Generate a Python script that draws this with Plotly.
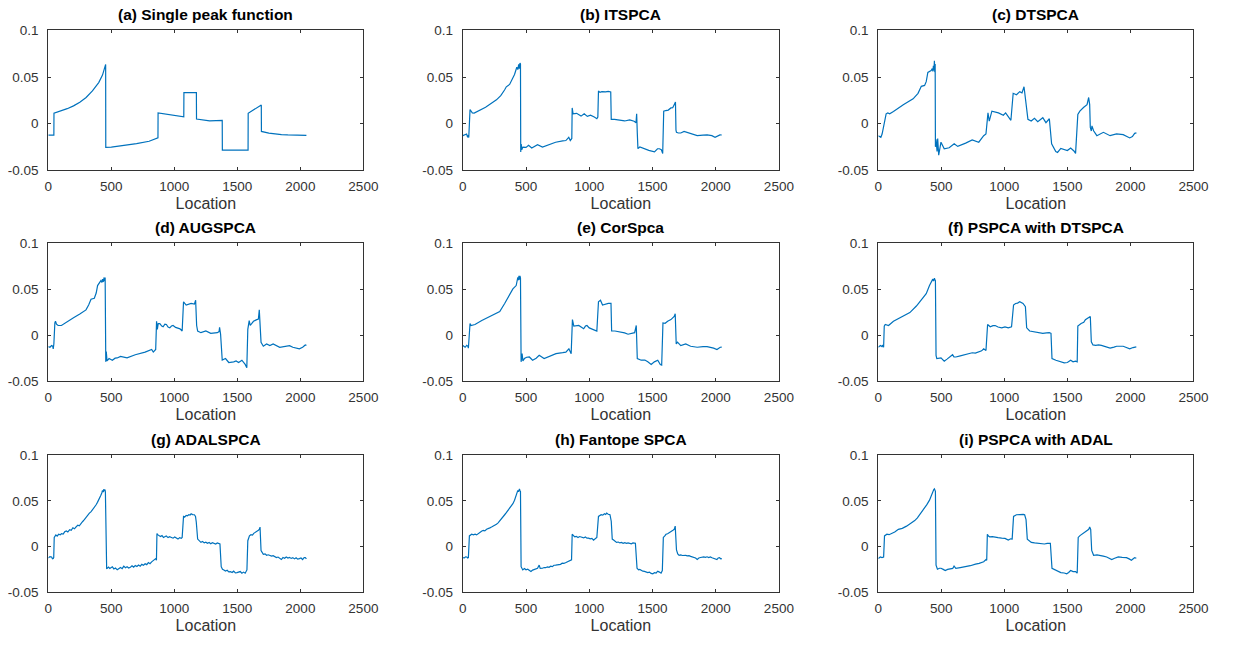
import plotly.graph_objects as go

# ---------------- data ----------------
titles = ["(a) Single peak function", "(b) ITSPCA", "(c) DTSPCA",
          "(d) AUGSPCA", "(e) CorSpca", "(f) PSPCA with DTSPCA",
          "(g) ADALSPCA", "(h) Fantope SPCA", "(i) PSPCA with ADAL"]

x_ticks = [0, 500, 1000, 1500, 2000, 2500]
x_tick_labels = ["0", "500", "1000", "1500", "2000", "2500"]
y_ticks = [-0.05, 0, 0.05, 0.1]
y_tick_labels = ["-0.05", "0", "0.05", "0.1"]
x_label = "Location"

single_peak = [(0,-0.0125),(44,-0.0125),(45,0.0112),(100,0.0135),(150,0.016),(200,0.019),
               (250,0.023),(300,0.028),(350,0.035),(400,0.044),(430,0.052),(455,0.0635),
               (456,-0.0255),(500,-0.0252),(600,-0.0236),(700,-0.0215),(800,-0.019),(870,-0.0152),
               (871,0.0115),(1000,0.0088),(1075,0.0072),(1076,0.0333),(1175,0.0333),(1176,0.0049),
               (1230,0.0037),(1280,0.0030),(1380,0.0035),(1381,-0.0284),(1585,-0.0284),(1586,0.011),
               (1690,0.020),(1691,-0.0084),(1750,-0.0102),(1800,-0.0112),(1850,-0.0118),
               (1900,-0.0122),(1950,-0.0124),(2048,-0.0126)]

itspca = [(0,-0.0129),(15,-0.0120),(30,-0.0112),(38,-0.0147),(44,-0.0125),(47,-0.0150),(52,0.008),
          (57,0.015),(65,0.0135),(75,0.0115),(90,0.0112),(120,0.0135),(180,0.0175),(266,0.0255),
          (300,0.030),(330,0.036),(344,0.0395),(370,0.042),(395,0.048),(409,0.0528),(427,0.0605),
          (435,0.058),(442,0.0635),(447,0.059),(452,0.065),(456,0.064),(458,-0.0304),(462,-0.022),
          (466,-0.028),(475,-0.0252),(500,-0.0256),(520,-0.0234),(545,-0.0262),(591,-0.0227),
          (630,-0.0252),(680,-0.0225),(734,-0.0200),(790,-0.0185),(815,-0.0182),(838,-0.0147),
          (850,-0.0182),(862,-0.016),(865,0.0168),(872,0.0105),(900,0.011),(935,0.0080),(960,0.0105),
          (985,0.0077),(1010,0.0090),(1040,0.0070),(1060,0.0052),(1068,0.007),(1073,0.035),
          (1085,0.0335),(1100,0.0343),(1130,0.034),(1150,0.0346),(1170,0.034),(1174,0.0045),
          (1200,0.0045),(1240,0.0035),(1280,0.0028),(1320,0.0040),(1355,0.0025),(1370,0.001),
          (1375,0.0105),(1380,-0.010),(1385,-0.0269),(1400,-0.0252),(1430,-0.027),(1471,-0.0287),
          (1516,-0.0304),(1540,-0.027),(1555,-0.027),(1570,-0.028),(1581,-0.0322),(1589,0.0133),
          (1605,0.014),(1625,0.0145),(1646,0.0168),(1660,0.017),(1672,0.0203),(1682,0.0231),
          (1686,-0.007),(1690,-0.0094),(1705,-0.0101),(1724,-0.0101),(1750,-0.0084),(1780,-0.0095),
          (1802,-0.0105),(1854,-0.0129),(1900,-0.0125),(1932,-0.0122),(1970,-0.013),(1995,-0.0147),
          (2034,-0.0122),(2048,-0.0123)]

dtspca = [(0,-0.013),(10,-0.0135),(20,-0.0147),(30,-0.0112),(45,0.0),(62,0.0105),(75,0.0115),
          (90,0.0105),(120,0.013),(198,0.0203),(276,0.0266),(300,0.030),(315,0.0325),(341,0.040),
          (367,0.041),(380,0.045),(393,0.055),(419,0.057),(428,0.059),(433,0.056),(437,0.062),
          (441,0.057),(445,0.0675),(448,0.055),(451,0.064),(453,-0.025),(458,-0.017),(466,-0.030),
          (471,-0.016),(479,-0.034),(488,-0.025),(497,-0.020),(523,-0.027),(562,-0.026),(602,-0.0217),
          (630,-0.0245),(693,-0.0210),(745,-0.0175),(797,-0.020),(836,-0.013),(854,-0.0112),
          (870,0.0115),(880,0.0027),(901,0.0133),(953,0.0115),(992,0.009),(1010,0.0115),(1030,0.008),
          (1052,0.0035),(1070,0.0325),(1096,0.031),(1122,0.0343),(1140,0.033),(1156,0.0395),
          (1174,0.022),(1187,0.0045),(1213,0.0028),(1239,0.0056),(1265,0.0021),(1305,0.0063),
          (1330,0.001),(1357,0.0052),(1375,-0.0217),(1408,-0.030),(1422,-0.031),(1448,-0.0266),
          (1500,-0.029),(1526,-0.0262),(1552,-0.0294),(1565,-0.032),(1583,0.0098),(1599,0.0133),
          (1630,0.0175),(1656,0.0203),(1669,0.028),(1677,0.0203),(1682,-0.0042),(1690,-0.008),
          (1695,-0.0025),(1708,-0.0077),(1734,-0.013),(1786,-0.0094),(1839,-0.013),(1890,-0.011),
          (1943,-0.0119),(1995,-0.0154),(2016,-0.014),(2034,-0.0105),(2048,-0.0100)]

augspca = [(0,-0.0124),(13,-0.0131),(26,-0.0113),(35,-0.012),(39,-0.0148),(44,-0.0095),(52,0.0134),
           (57,0.0152),(65,0.012),(78,0.0106),(104,0.0106),(150,0.015),(200,0.019),(250,0.023),
           (299,0.0276),(320,0.033),(339,0.0392),(365,0.0403),(380,0.046),(391,0.0541),(417,0.0594),
           (425,0.0576),(430,0.0611),(436,0.058),(443,0.0629),(447,0.059),(451,0.0629),(456,-0.029),
           (460,-0.0177),(466,-0.028),(482,-0.0254),(508,-0.0272),(530,-0.025),(547,-0.0247),
           (573,-0.023),(625,-0.0247),(690,-0.0212),(768,-0.0184),(800,-0.017),(820,-0.0155),
           (833,-0.0184),(845,-0.016),(852,-0.0155),(859,0.0152),(865,0.0064),(872,0.0127),
           (885,0.0127),(900,0.010),(911,0.0092),(925,0.012),(937,0.0117),(950,0.009),(964,0.0081),
           (977,0.010),(990,0.0106),(1010,0.0085),(1029,0.0081),(1045,0.007),(1062,0.0046),
           (1073,0.0364),(1094,0.0329),(1115,0.034),(1133,0.0346),(1159,0.0339),(1169,0.0382),
           (1177,0.0106),(1185,0.0046),(1211,0.0028),(1250,0.0046),(1289,0.0021),(1320,0.0028),
           (1341,0.0028),(1355,0.004),(1359,0.0085),(1367,0.0011),(1380,-0.027),(1406,-0.0254),
           (1432,-0.0297),(1471,-0.029),(1490,-0.028),(1510,-0.0297),(1536,-0.0272),(1562,-0.0318),
           (1575,-0.0353),(1583,0.0064),(1594,0.0159),(1602,0.0106),(1628,0.0152),(1654,0.017),
           (1667,0.0177),(1674,0.0276),(1680,0.0152),(1688,-0.0078),(1706,-0.012),(1732,-0.0095),
           (1758,-0.0113),(1784,-0.0095),(1836,-0.0131),(1880,-0.012),(1914,-0.0113),(1940,-0.0131),
           (1992,-0.0148),(2018,-0.0131),(2039,-0.0106),(2048,-0.011)]

corspca = [(0,-0.0113),(18,-0.0131),(31,-0.011),(40,-0.012),(44,-0.0141),(50,-0.0042),(57,0.0127),
           (65,0.0106),(96,0.0117),(150,0.0160),(200,0.0195),(250,0.0225),(292,0.0258),(331,0.0346),
           (370,0.0435),(396,0.0505),(422,0.0541),(435,0.0629),(440,0.060),(444,0.0647),(448,0.0605),
           (452,0.0647),(456,0.0622),(461,-0.029),(469,-0.0201),(475,-0.028),(487,-0.0254),
           (505,-0.024),(526,-0.0237),(552,-0.0272),(580,-0.025),(604,-0.0219),(643,-0.0254),
           (690,-0.0225),(737,-0.0201),(790,-0.019),(815,-0.0184),(839,-0.0148),(850,-0.0175),
           (857,-0.0201),(867,0.017),(878,0.0099),(917,0.0106),(940,0.0085),(956,0.0071),(970,0.010),
           (982,0.0106),(1000,0.008),(1021,0.0071),(1040,0.006),(1060,0.0046),(1073,0.0364),
           (1089,0.0382),(1105,0.0329),(1130,0.034),(1151,0.0346),(1172,0.0346),(1177,0.0046),
           (1203,0.0046),(1230,0.004),(1255,0.0035),(1280,0.0025),(1307,0.0011),(1335,0.002),
           (1359,0.0028),(1372,0.0106),(1380,-0.0254),(1411,-0.0272),(1440,-0.027),(1463,-0.029),
           (1490,-0.0318),(1515,-0.029),(1542,-0.0272),(1562,-0.0318),(1573,-0.0325),(1583,0.0134),
           (1600,0.013),(1620,0.0152),(1646,0.017),(1672,0.0205),(1680,0.0233),(1688,-0.0095),
           (1698,-0.0075),(1724,-0.0113),(1763,-0.0095),(1802,-0.012),(1854,-0.0131),(1900,-0.0125),
           (1932,-0.0124),(1984,-0.0141),(2010,-0.0155),(2036,-0.0131),(2048,-0.013)]

pspca_dt = [(0,-0.0131),(16,-0.0113),(29,-0.0124),(36,-0.0106),(42,-0.0131),(47,0.0099),(55,0.0117),
            (81,0.0106),(120,0.0152),(172,0.0187),(250,0.0247),(302,0.0318),(341,0.0389),(380,0.0452),
            (406,0.0541),(432,0.0611),(438,0.059),(445,0.0622),(450,0.060),(453,0.0594),(458,-0.0219),
            (464,-0.0254),(497,-0.0247),(523,-0.0283),(545,-0.026),(563,-0.0237),(589,-0.0212),
            (600,-0.0235),(615,-0.0237),(650,-0.0225),(693,-0.0212),(745,-0.0191),(770,-0.0195),
            (797,-0.0177),(820,-0.017),(836,-0.0148),(854,-0.0166),(867,0.0117),(888,0.0092),
            (910,0.0105),(927,0.0106),(950,0.009),(979,0.0081),(1005,0.009),(1031,0.0081),
            (1057,0.0092),(1073,0.0329),(1089,0.0346),(1105,0.035),(1122,0.0364),(1148,0.0346),
            (1167,0.0311),(1177,0.0081),(1201,0.0046),(1230,0.004),(1253,0.0028),(1280,0.003),
            (1305,0.0021),(1335,0.0025),(1357,0.0028),(1370,0.0021),(1378,-0.0254),(1409,-0.0272),
            (1448,-0.029),(1475,-0.030),(1500,-0.0297),(1526,-0.0272),(1545,-0.029),(1565,-0.0283),
            (1578,-0.029),(1583,0.0099),(1609,0.0127),(1630,0.014),(1643,0.017),(1669,0.0198),
            (1682,0.0205),(1690,-0.0071),(1703,-0.0106),(1725,-0.011),(1747,-0.0106),(1770,-0.011),
            (1799,-0.012),(1839,-0.0141),(1870,-0.013),(1891,-0.012),(1943,-0.012),(1995,-0.0148),
            (2021,-0.0134),(2047,-0.0127)]

adalspca = [(0,-0.0125),(13,-0.011),(26,-0.0114),(33,-0.0135),(39,-0.0132),(43,-0.012),(47,0.010),
            (60,0.0128),(70,0.0115),(82,0.0135),(95,0.0128),(104,0.0142),(118,0.0138),(130,0.0162),
            (143,0.0171),(155,0.0160),(170,0.0185),(182,0.0178),(195,0.0206),(208,0.0195),
            (220,0.0215),(234,0.0235),(246,0.0228),(260,0.026),(273,0.0275),(286,0.0295),
            (298,0.0318),(312,0.0335),(326,0.0367),(338,0.0380),(352,0.0405),(365,0.0425),
            (378,0.0456),(390,0.0485),(404,0.052),(417,0.0562),(425,0.0590),(430,0.0616),
            (436,0.0598),(441,0.0630),(445,0.0610),(450,0.0626),(453,0.0598),(458,-0.0203),
            (463,-0.024),(469,-0.0238),(478,-0.0225),(488,-0.0240),(497,-0.0228),(508,-0.0221),
            (520,-0.0245),(533,-0.0235),(547,-0.0255),(560,-0.0238),(573,-0.0230),(586,-0.0242),
            (599,-0.0214),(612,-0.0232),(625,-0.0222),(638,-0.0235),(651,-0.0228),(664,-0.0210),
            (677,-0.0225),(690,-0.0208),(703,-0.0218),(716,-0.0203),(729,-0.0215),(742,-0.0195),
            (755,-0.0205),(768,-0.0188),(781,-0.0198),(794,-0.0175),(807,-0.0188),(820,-0.0168),
            (833,-0.0157),(845,-0.0140),(852,-0.0132),(858,-0.0150),(862,0.0142),(870,0.0128),
            (878,0.0117),(890,0.0110),(902,0.0120),(914,0.0100),(924,0.0107),(936,0.0115),
            (950,0.0098),(963,0.0108),(977,0.0100),(990,0.0092),(1003,0.0105),(1016,0.0088),
            (1029,0.0082),(1042,0.0098),(1055,0.0090),(1062,0.0100),(1073,0.0331),(1083,0.0325),
            (1094,0.0342),(1105,0.0338),(1115,0.0350),(1125,0.0345),(1133,0.0359),(1145,0.0350),
            (1159,0.0349),(1168,0.0330),(1174,0.0270),(1185,0.0082),(1198,0.0065),(1211,0.0046),
            (1224,0.0055),(1237,0.0040),(1250,0.0048),(1263,0.0036),(1276,0.0045),(1289,0.0030),
            (1302,0.0042),(1315,0.0036),(1328,0.0028),(1341,0.0040),(1352,0.0030),(1362,0.0028),
            (1372,-0.0221),(1382,-0.0250),(1393,-0.0256),(1406,-0.0268),(1419,-0.0260),
            (1432,-0.0278),(1445,-0.0274),(1458,-0.0285),(1471,-0.0270),(1484,-0.0288),
            (1497,-0.0285),(1510,-0.0275),(1523,-0.0274),(1536,-0.0292),(1549,-0.0280),
            (1562,-0.0292),(1576,-0.0256),(1583,0.0064),(1590,0.0100),(1596,0.0117),(1608,0.0130),
            (1620,0.0125),(1630,0.0145),(1641,0.0153),(1654,0.0160),(1667,0.0178),(1675,0.0190),
            (1680,0.0214),(1688,-0.0043),(1697,-0.0070),(1706,-0.0085),(1720,-0.0080),
            (1732,-0.0095),(1745,-0.0090),(1758,-0.0096),(1771,-0.0105),(1784,-0.0100),
            (1797,-0.0112),(1810,-0.0121),(1823,-0.0115),(1836,-0.0125),(1849,-0.0142),
            (1862,-0.0120),(1875,-0.0128),(1888,-0.0114),(1901,-0.0125),(1914,-0.0118),
            (1927,-0.0130),(1940,-0.0121),(1953,-0.0135),(1966,-0.0122),(1979,-0.0138),
            (1992,-0.0132),(2005,-0.0125),(2018,-0.0142),(2030,-0.0120),(2039,-0.0121),(2048,-0.0135)]

fantope = [(0,-0.0121),(12,-0.0125),(22,-0.0112),(31,-0.0114),(38,-0.0125),(44,-0.0121),(52,0.0117),
           (61,0.0128),(70,0.0135),(84,0.0128),(97,0.0135),(109,0.0128),(122,0.0145),(135,0.0155),
           (148,0.0168),(161,0.0178),(174,0.0172),(188,0.0190),(201,0.0195),(214,0.0205),
           (227,0.0214),(240,0.0222),(253,0.0235),(266,0.0245),(279,0.0260),(292,0.0280),
           (305,0.0300),(318,0.0325),(331,0.0349),(344,0.0372),(357,0.0395),(370,0.0415),
           (383,0.0438),(396,0.0470),(409,0.0509),(422,0.0560),(430,0.0590),(435,0.0616),
           (440,0.0600),(444,0.0630),(448,0.0633),(452,0.0610),(456,0.0605),(461,-0.0221),
           (467,-0.0250),(474,-0.0256),(487,-0.0240),(500,-0.0255),(513,-0.0249),(526,-0.0262),
           (539,-0.0274),(552,-0.0258),(565,-0.0250),(578,-0.0245),(591,-0.0238),(604,-0.0203),
           (612,-0.0240),(630,-0.0238),(643,-0.0230),(656,-0.0232),(669,-0.0222),(682,-0.0228),
           (695,-0.0215),(708,-0.0220),(721,-0.0205),(734,-0.0203),(747,-0.0200),(760,-0.0190),
           (773,-0.0195),(786,-0.0182),(799,-0.0185),(812,-0.0178),(825,-0.0170),(838,-0.0165),
           (852,-0.0150),(860,-0.0145),(865,0.0135),(875,0.0120),(885,0.0107),(898,0.0112),
           (911,0.0100),(924,0.0110),(943,0.0100),(956,0.0095),(969,0.0105),(982,0.0092),
           (995,0.0093),(1008,0.0085),(1021,0.0090),(1034,0.0071),(1047,0.0085),(1060,0.0100),
           (1073,0.0331),(1084,0.0340),(1094,0.0349),(1107,0.0345),(1120,0.0360),(1130,0.0352),
           (1138,0.0367),(1150,0.0355),(1164,0.0349),(1174,0.0278),(1182,0.0082),(1195,0.0070),
           (1205,0.0055),(1216,0.0046),(1230,0.0050),(1242,0.0040),(1255,0.0045),(1268,0.0036),
           (1281,0.0042),(1294,0.0035),(1307,0.0040),(1320,0.0036),(1333,0.0030),(1346,0.0040),
           (1358,0.0036),(1365,0.0036),(1378,-0.0238),(1390,-0.0255),(1400,-0.0250),(1411,-0.0263),
           (1424,-0.0270),(1437,-0.0272),(1450,-0.0278),(1463,-0.0285),(1476,-0.0280),
           (1489,-0.0295),(1503,-0.0299),(1516,-0.0285),(1529,-0.0290),(1542,-0.0270),
           (1555,-0.0280),(1568,-0.0292),(1578,-0.0263),(1586,0.0100),(1596,0.0115),(1607,0.0135),
           (1620,0.0140),(1633,0.0155),(1646,0.0164),(1659,0.0175),(1672,0.0189),(1680,0.0224),
           (1690,-0.0036),(1700,-0.0080),(1711,-0.0096),(1724,-0.0092),(1737,-0.0098),
           (1750,-0.0095),(1763,-0.0096),(1776,-0.0102),(1789,-0.0100),(1802,-0.0108),
           (1815,-0.0114),(1828,-0.0120),(1841,-0.0125),(1854,-0.0142),(1867,-0.0125),
           (1880,-0.0120),(1893,-0.0115),(1906,-0.0114),(1919,-0.0118),(1932,-0.0112),
           (1945,-0.0120),(1958,-0.0114),(1971,-0.0122),(1984,-0.0128),(1997,-0.0135),
           (2010,-0.0142),(2020,-0.0125),(2031,-0.0121),(2040,-0.0135),(2049,-0.0132)]

pspca_adal = [(0,-0.0132),(16,-0.0114),(29,-0.0121),(42,-0.0114),(49,0.0117),(68,0.0135),(85,0.0130),
              (107,0.0142),(130,0.0160),(159,0.0189),(190,0.0200),(224,0.0224),(255,0.0250),
              (289,0.0285),(310,0.0315),(328,0.0349),(348,0.0385),(367,0.0420),(385,0.0460),
              (406,0.0509),(420,0.0560),(427,0.0591),(435,0.0605),(440,0.0625),(445,0.0633),
              (449,0.0610),(453,0.0605),(458,-0.0203),(464,-0.0235),(469,-0.0249),(485,-0.0238),
              (497,-0.0238),(515,-0.0250),(531,-0.0263),(550,-0.0250),(576,-0.0238),(590,-0.0240),
              (601,-0.0214),(615,-0.0238),(650,-0.0230),(693,-0.0221),(730,-0.0210),(771,-0.0192),
              (800,-0.0185),(836,-0.0167),(854,-0.0142),(860,-0.0150),(865,0.0135),(874,0.0115),
              (883,0.0107),(905,0.0110),(927,0.0100),(950,0.0098),(979,0.0093),(1005,0.0090),
              (1031,0.0071),(1050,0.0085),(1062,0.0082),(1073,0.0331),(1096,0.0349),(1115,0.0350),
              (1135,0.0359),(1150,0.0352),(1161,0.0349),(1172,0.0295),(1182,0.0082),(1200,0.0060),
              (1214,0.0046),(1240,0.0040),(1266,0.0036),(1290,0.0032),(1318,0.0028),(1340,0.0035),
              (1365,0.0036),(1378,-0.0238),(1409,-0.0263),(1430,-0.0275),(1448,-0.0285),
              (1475,-0.0290),(1495,-0.0299),(1510,-0.0285),(1526,-0.0263),(1545,-0.0275),
              (1565,-0.0274),(1578,-0.0292),(1586,0.0100),(1600,0.0120),(1617,0.0135),(1635,0.0150),
              (1656,0.0171),(1670,0.0190),(1677,0.0214),(1685,0.0189),(1693,-0.0043),(1708,-0.0096),
              (1735,-0.0092),(1760,-0.0096),(1785,-0.0105),(1812,-0.0114),(1830,-0.0125),
              (1852,-0.0142),(1875,-0.0128),(1904,-0.0114),(1935,-0.0118),(1969,-0.0121),
              (1990,-0.0135),(2008,-0.0150),(2025,-0.0130),(2034,-0.0121),(2047,-0.0128)]

series = [single_peak, itspca, dtspca, augspca, corspca, pspca_dt, adalspca, fantope, pspca_adal]

# ---------------- layout ----------------
W, H = 1234, 649
col_px = [(45, 365), (466, 787), (888, 1208)]
row_px = [(24, 167), (242, 383), (459, 599)]

LINE = "#0072BD"
AX = "#333333"
FONT = "Liberation Sans, Arial, Helvetica, sans-serif"

fig = go.Figure()
layout = dict(width=W, height=H, margin=dict(l=0, r=0, t=0, b=0),
              paper_bgcolor="white", plot_bgcolor="white", showlegend=False,
              font=dict(family=FONT, color=AX))
annotations = []

for k, pts in enumerate(series):
    r, c = divmod(k, 3)
    n = "" if k == 0 else str(k + 1)
    xs = [p[0] for p in pts]
    ys = [p[1] for p in pts]
    fig.add_trace(go.Scatter(x=xs, y=ys, mode="lines", xaxis="x" + n, yaxis="y" + n,
                             line=dict(color=LINE, width=1.2), hoverinfo="skip"))
    x0, x1 = col_px[c]
    y0, y1 = row_px[r]
    common = dict(showline=True, linecolor=AX, linewidth=1, mirror="ticks",
                  ticks="inside", ticklen=3, tickwidth=1, tickcolor=AX,
                  showgrid=False, zeroline=False,
                  tickfont=dict(size=13.5, color=AX, family=FONT))
    layout["xaxis" + n] = dict(common, domain=[x0 / W, x1 / W], anchor="y" + n,
                               range=[0, 2500], tickvals=x_ticks, ticktext=x_tick_labels,
                               ticklabelstandoff=4,
                               title=dict(text=x_label, font=dict(size=16, color=AX, family=FONT),
                                          standoff=4))
    layout["yaxis" + n] = dict(common, domain=[1 - y1 / H, 1 - y0 / H], anchor="x" + n,
                               range=[-0.05, 0.1], tickvals=y_ticks, ticktext=y_tick_labels,
                               ticklabelstandoff=6)
    annotations.append(dict(text="<b>" + titles[k] + "</b>", xref="paper", yref="paper",
                            x=(x0 + x1) / 2 / W, y=1 - y0 / H, xanchor="center", yanchor="bottom",
                            yshift=5, showarrow=False,
                            font=dict(size=15.5, color="#000000", family=FONT)))

layout["annotations"] = annotations
fig.update_layout(**layout)
fig.write_html("out.html")
